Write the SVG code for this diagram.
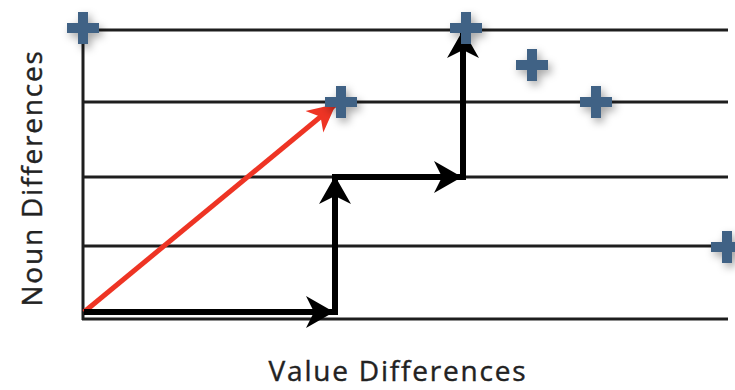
<svg xmlns="http://www.w3.org/2000/svg" width="735" height="390" viewBox="0 0 735 390">
<style>
.grid{stroke:#1e1e1e;stroke-width:3;fill:none}
.blk{stroke:#000;stroke-width:6;fill:none}
.red{stroke:#ee3424;stroke-width:5;fill:none}
.plus{fill:#3f6285;filter:url(#sh)}
.lbl{font-family:"Open Sans","Liberation Sans",sans-serif;font-size:28px;letter-spacing:1.8px;fill:#222;stroke:#222;stroke-width:0.4}
</style>
<defs>
<filter id="sh" x="-50%" y="-50%" width="200%" height="200%">
<feDropShadow dx="3" dy="4" stdDeviation="4" flood-color="#000" flood-opacity="0.35"/>
</filter>
<marker id="ab" markerUnits="userSpaceOnUse" markerWidth="32" markerHeight="34" refX="28" refY="16" orient="auto" viewBox="0 0 32 34">
<path d="M28,16 L0,0 L8,16 L0,32 Z" fill="#000"/>
</marker>
<marker id="ar" markerUnits="userSpaceOnUse" markerWidth="32" markerHeight="34" refX="28" refY="16" orient="auto" viewBox="0 0 32 34">
<path d="M28,16 L0,2 L8,16 L0,30 Z" fill="#ee3424"/>
</marker>
<path id="p" d="M-5,-16 h10 v11 h11 v10 h-11 v11 h-10 v-11 h-11 v-10 h11 z"/>
</defs>
<g id="grid">
<line class="grid" x1="83" y1="30" x2="728" y2="30"/>
<line class="grid" x1="83" y1="102" x2="728" y2="102"/>
<line class="grid" x1="83" y1="177" x2="728" y2="177"/>
<line class="grid" x1="83" y1="246" x2="728" y2="246"/>
<line class="grid" x1="82" y1="319" x2="728" y2="319"/>
<line class="grid" x1="83" y1="28" x2="83" y2="320"/>
</g>
<g id="connectors">
<line class="red" x1="84" y1="312" x2="336" y2="104" marker-end="url(#ar)"/>
<line class="blk" x1="84" y1="312" x2="334" y2="312" marker-end="url(#ab)"/>
<line class="blk" x1="335" y1="315" x2="335" y2="176" marker-end="url(#ab)"/>
<line class="blk" x1="332" y1="177" x2="462" y2="177" marker-end="url(#ab)"/>
<line class="blk" x1="463" y1="180" x2="463" y2="30" marker-end="url(#ab)"/>
</g>
<g id="points">
<use href="#p" class="plus" x="83" y="28"/>
<use href="#p" class="plus" x="341" y="102"/>
<use href="#p" class="plus" x="466" y="28"/>
<use href="#p" class="plus" x="532" y="65"/>
<use href="#p" class="plus" x="596" y="102"/>
<use href="#p" class="plus" x="727" y="247"/>
</g>
<text class="lbl" x="398" y="381" text-anchor="middle">Value Differences</text>
<text class="lbl" transform="translate(42,178) rotate(-90)" text-anchor="middle">Noun Differences</text>
</svg>
